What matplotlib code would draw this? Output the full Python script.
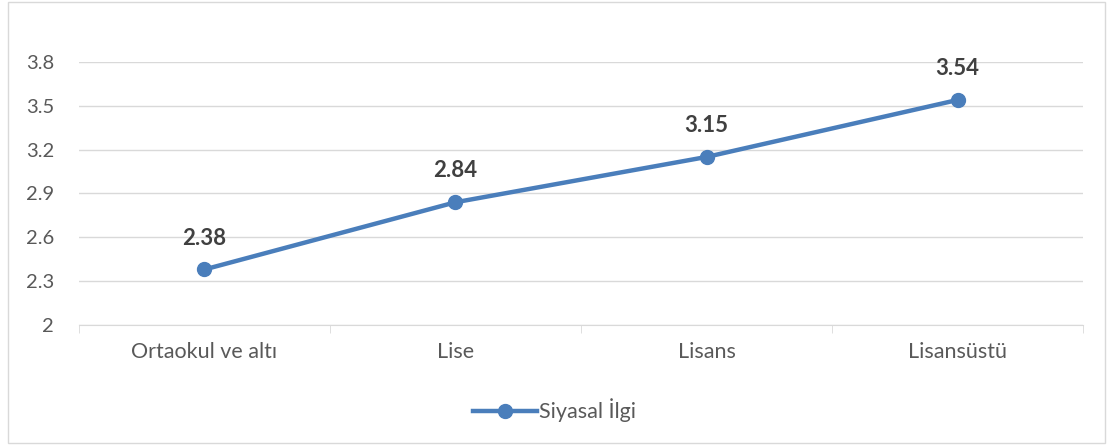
import numpy as np
import matplotlib.pyplot as plt
from matplotlib.patches import Rectangle

categories = ['Ortaokul ve altı', 'Lise', 'Lisans', 'Lisansüstü']
values = [2.38, 2.84, 3.15, 3.54]
yticks = [2, 2.3, 2.6, 2.9, 3.2, 3.5, 3.8]
series_name = 'Siyasal İlgi'

plt.rcParams['font.family'] = ['Lato', 'DejaVu Sans']
line_color = '#4A7EBB'
text_color = '#595959'

fig = plt.figure(figsize=(11.09, 4.45), dpi=100)
ax = fig.add_axes([0.0712, 0.2697, 0.9054, 0.591])

# outer chart frame
fig.patches.append(Rectangle((8 / 1109, 2 / 445), 1097 / 1109, 441 / 445,
                             transform=fig.transFigure, fill=False,
                             edgecolor='#D9D9D9', linewidth=1))

x = np.arange(len(categories))
ax.plot(x, values, color=line_color, linewidth=3.2, marker='o',
        markersize=10, label=series_name, zorder=3)
for xi, v in zip(x, values):
    ax.annotate(f'{v:.2f}', (xi, v), xytext=(0, 15), textcoords='offset points',
                ha='center', va='bottom', fontsize=16, fontweight='bold',
                color='#404040')

ax.set_xlim(-0.5, len(categories) - 0.5)
ax.set_ylim(2, 3.8)
ax.set_yticks(yticks)
ax.set_yticklabels(['2', '2.3', '2.6', '2.9', '3.2', '3.5', '3.8'])
ax.yaxis.grid(True, color='#D9D9D9', linewidth=1)
ax.set_axisbelow(True)

ax.set_xticks(x)
ax.set_xticklabels(categories)
ax.set_xticks(np.arange(len(categories) + 1) - 0.5, minor=True)
ax.tick_params(axis='x', which='major', length=0, pad=12, labelsize=15.5, labelcolor=text_color)
ax.tick_params(axis='x', which='minor', length=6, color='#D9D9D9')
ax.tick_params(axis='y', length=0, pad=18, labelsize=14.5, labelcolor=text_color)

for side in ['top', 'right', 'left']:
    ax.spines[side].set_visible(False)
ax.spines['bottom'].set_color('#D9D9D9')

leg = fig.legend(loc='center', bbox_to_anchor=(0.5, 0.078), frameon=False,
                 fontsize=15.5, handlelength=3.0, handletextpad=0.1)
for t in leg.get_texts():
    t.set_color(text_color)

fig.savefig('out.png', dpi=100)
